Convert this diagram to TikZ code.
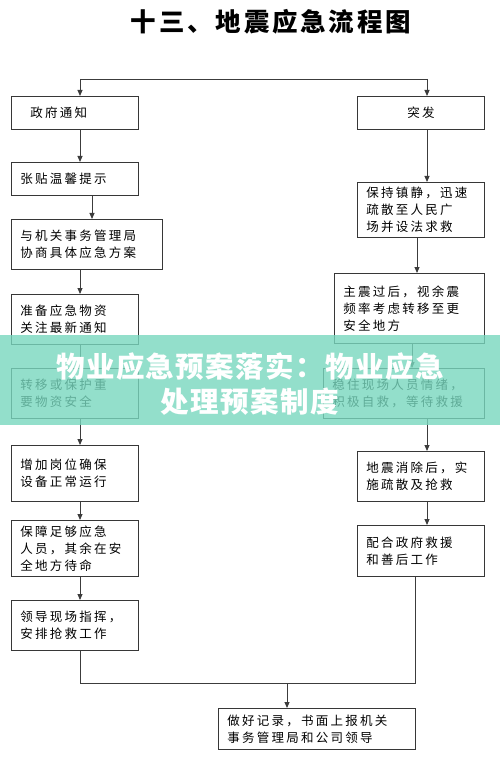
\documentclass[tikz,border=0pt]{standalone}
\usepackage{fontspec}
\usepackage{xcolor}
\usepackage{tikz}
\usetikzlibrary{arrows.meta, positioning, calc}
\newfontfamily\cjk{Noto Sans CJK SC}
\definecolor{boxgray}{RGB}{55,55,55}
\definecolor{linegray}{RGB}{60,60,60}
\definecolor{bandmint}{RGB}{120,215,190}
\tikzset{
  flowbox/.style={rectangle, draw=boxgray, line width=0.9pt, anchor=north west,
    inner xsep=9pt, inner ysep=0pt, align=left,
    font=\cjk\fontsize{12.5}{17}\selectfont\addfontfeature{LetterSpace=18}},
  arrow/.style={-{Stealth[length=6pt,width=5pt,inset=0pt]}, line width=0.9pt, color=linegray},
  line/.style={line width=0.9pt, color=linegray}
}
\begin{document}
\begin{tikzpicture}[x=1pt,y=-1pt]
  \useasboundingbox (0,0) rectangle (500,767);
  \node[font=\cjk\bfseries\fontsize{25.5}{30}\selectfont\addfontfeature{LetterSpace=11}] (title) at (271,22) {十三、地震应急流程图};

  % left column
  \node[flowbox, minimum width=127, minimum height=33, text width=109pt] (l1) at (11,96) {\hspace*{10pt}政府通知};
  \node[flowbox, minimum width=127, minimum height=33, text width=109pt] (l2) at (11,162) {张贴温馨提示};
  \node[flowbox, minimum width=151, minimum height=50, text width=133pt] (l3) at (11,219) {与机关事务管理局\\协商具体应急方案};
  \node[flowbox, minimum width=127, minimum height=50, text width=109pt] (l4) at (11,294) {准备应急物资\\关注最新通知};
  \node[flowbox, minimum width=127, minimum height=50, text width=109pt] (l5) at (11,368) {转移或保护重\\要物资安全};
  \node[flowbox, minimum width=127, minimum height=56, text width=109pt] (l6) at (11,445) {增加岗位确保\\设备正常运行\\[4pt]};
  \node[flowbox, minimum width=127, minimum height=56, text width=109pt] (l7) at (11,520) {保障足够应急\\人员，其余在安\\全地方待命};
  \node[flowbox, minimum width=127, minimum height=50, text width=109pt] (l8) at (11,600) {领导现场指挥，\\安排抢救工作};

  % right column
  \node[flowbox, minimum width=127, minimum height=33, text width=109pt, align=center] (r1) at (357,96) {突发};
  \node[flowbox, minimum width=127, minimum height=55, text width=109pt] (r2) at (357,182) {保持镇静，迅速\\疏散至人民广\\场并设法求救};
  \node[flowbox, minimum width=150, minimum height=70, text width=132pt] (r3) at (334,273) {主震过后，视余震\\频率考虑转移至更\\安全地方\\[2pt]};
  \node[flowbox, minimum width=161, minimum height=50, text width=143pt] (r4) at (323,368) {稳住现场人员情绪，\\积极自救，等待救援};
  \node[flowbox, minimum width=127, minimum height=50, text width=109pt] (r5) at (357,451) {地震消除后，实\\施疏散及抢救};
  \node[flowbox, minimum width=127, minimum height=51, text width=109pt] (r6) at (357,525) {配合政府救援\\和善后工作\\[2pt]};

  \node[flowbox, minimum width=197, minimum height=41, text width=179pt] (fin) at (218,708) {做好记录，书面上报机关\\事务管理局和公司领导};

  % connector columns
  \coordinate (xa) at (80,0);
  \coordinate (xb) at (92,0);
  \coordinate (xc) at (427,0);
  \coordinate (xd) at (417,0);
  \coordinate (xe) at (412,0);
  \coordinate (tl) at (80,79);
  \coordinate (tr) at (427,79);
  \coordinate (jl) at (80,683);
  \coordinate (jr) at (415,683);
  \coordinate (jn) at (287,683);

  \draw[line] (tl) -- (tr);
  \draw[arrow] (tl) -- (l1.north -| tl);
  \draw[arrow] (tr) -- (r1.north -| tr);

  \draw[arrow] (l1.south -| xa) -- (l2.north -| xa);
  \draw[arrow] (l2.south -| xb) -- (l3.north -| xb);
  \draw[arrow] (l3.south -| xa) -- (l4.north -| xa);
  \draw[arrow] (l4.south -| xa) -- (l5.north -| xa);
  \draw[arrow] (l5.south -| xa) -- (l6.north -| xa);
  \draw[arrow] (l6.south -| xa) -- (l7.north -| xa);
  \draw[arrow] (l7.south -| xa) -- (l8.north -| xa);

  \draw[arrow] (r1.south -| xc) -- (r2.north -| xc);
  \draw[arrow] (r2.south -| xd) -- (r3.north -| xd);
  \draw[arrow] (r3.south -| xe) -- (r4.north -| xe);
  \draw[arrow] (r4.south -| xc) -- (r5.north -| xc);
  \draw[arrow] (r5.south -| xc) -- (r6.north -| xc);

  \draw[line] (l8.south -| jl) -- (jl) -- (jr) -- (r6.south -| jr);
  \draw[arrow] (jn) -- (fin.north -| jn);

  % overlay band
  \node[rectangle, fill=bandmint, fill opacity=0.8, minimum width=500, minimum height=90, inner sep=0pt] (band) at (250,380) {};
  \node[text=white, align=center, font=\cjk\bfseries\fontsize{28.5}{35}\selectfont\addfontfeature{LetterSpace=5}] (bandtxt) at (250,384) {物业应急预案落实：物业应急\\处理预案制度};
\end{tikzpicture}
\end{document}
